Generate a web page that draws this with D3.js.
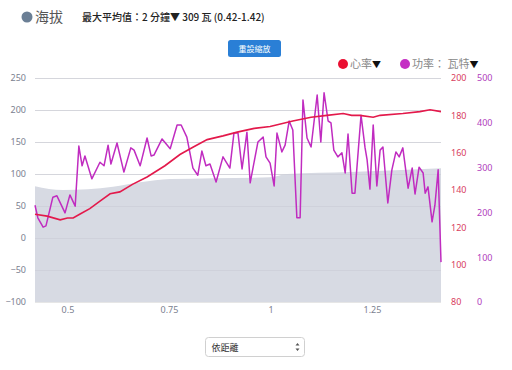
<!DOCTYPE html>
<html>
<head>
<meta charset="utf-8">
<script src="https://cdn.jsdelivr.net/npm/d3@7"></script>
<style>
  body { margin: 0; background: #fff; }
  svg { display: block; font-family: "Noto Sans", "Noto Sans CJK TC", sans-serif; }
</style>
</head>
<body>
<div id="chart"></div>
<script>
(function() {
  // data (distance in km)
  var altDist = [0.420, 0.489, 0.612, 0.679, 0.753, 0.999, 1.041, 1.196, 1.420],
      altVal  = [81, 75, 80, 87, 92, 95, 100, 103, 109];

  var hrDist = [0.420, 0.450, 0.482, 0.500, 0.514, 0.530, 0.555, 0.580, 0.605, 0.629, 0.660, 0.696,
                0.740, 0.777, 0.810, 0.844, 0.883, 0.918, 0.960, 0.999,
                1.055, 1.100, 1.139, 1.179, 1.200, 1.220, 1.253, 1.270, 1.326, 1.368, 1.393, 1.420],
      hrVal  = [127, 126, 124, 125, 125, 127, 130, 134, 138, 139, 143, 147,
                153, 159, 163, 167, 169, 171, 173, 174,
                177, 179, 180, 181, 180, 180, 179, 180, 181, 182, 183, 182];

  var pwDist = [0.420, 0.427, 0.440, 0.447, 0.464, 0.474, 0.494, 0.506, 0.519, 0.528, 0.536, 0.543,
                0.560, 0.580, 0.590, 0.600, 0.607, 0.622, 0.639, 0.656, 0.664, 0.679, 0.696, 0.706,
                0.713, 0.733, 0.753, 0.770, 0.780, 0.794, 0.809, 0.821, 0.831, 0.841, 0.851, 0.866,
                0.883, 0.900, 0.910, 0.920, 0.930, 0.942, 0.950, 0.969, 0.982, 0.989, 0.999, 1.009,
                1.016, 1.028, 1.036, 1.046, 1.055, 1.065, 1.073, 1.080, 1.090, 1.100, 1.115, 1.124,
                1.132, 1.142, 1.149, 1.156, 1.166, 1.176, 1.184, 1.191, 1.201, 1.208, 1.223, 1.233,
                1.238, 1.245, 1.253, 1.262, 1.270, 1.277, 1.289, 1.299, 1.309, 1.317, 1.326, 1.339,
                1.349, 1.356, 1.366, 1.376, 1.381, 1.388, 1.398, 1.405, 1.413, 1.420],
      pwVal  = [216, 188, 167, 170, 234, 237, 199, 239, 214, 348, 304, 326,
                275, 312, 304, 350, 308, 355, 290, 344, 339, 304, 366, 326,
                328, 364, 342, 395, 395, 368, 299, 283, 337, 304, 308, 268,
                324, 299, 377, 377, 297, 379, 266, 357, 368, 324, 310, 259,
                377, 335, 350, 404, 384, 188, 188, 451, 366, 346, 462, 357,
                467, 404, 400, 339, 324, 333, 288, 375, 243, 243, 417, 344,
                317, 252, 395, 259, 339, 346, 221, 295, 335, 324, 344, 254,
                299, 241, 301, 288, 243, 257, 179, 216, 295, 89];

  var xTicks = [0.5, 0.75, 1, 1.25],
      leftTicks = [-100, -50, 0, 50, 100, 150, 200, 250],
      hrTicks = [80, 100, 120, 140, 160, 180, 200],
      pwTicks = [0, 100, 200, 300, 400, 500];

  // layout
  var W = 512, H = 370,
      x0 = 35, x1 = 441, yTop = 78, yBot = 302;

  var svg = d3.select('#chart').append('svg')
    .attr('width', W).attr('height', H);

  var x = d3.scaleLinear().domain([0.42, 1.42]).range([x0, x1]),
      yL = d3.scaleLinear().domain([-100, 250]).range([yBot, yTop]),
      yHr = d3.scaleLinear().domain([80, 200]).range([yBot, yTop]),
      yPw = d3.scaleLinear().domain([0, 500]).range([yBot, yTop]);

  // grid
  svg.append('g').selectAll('line').data(leftTicks).join('line')
    .attr('x1', x0).attr('x2', x1)
    .attr('y1', function(d) { return yL(d) + 0.5; })
    .attr('y2', function(d) { return yL(d) + 0.5; })
    .attr('stroke', '#e6e6e6');

  // altitude area
  var alt = altDist.map(function(d, i) { return [d, altVal[i]]; });
  svg.append('path')
    .datum(alt)
    .attr('fill', '#d7dae3')
    .attr('d', d3.area().curve(d3.curveMonotoneX)
      .x(function(d) { return x(d[0]); })
      .y0(yBot)
      .y1(function(d) { return yL(d[1]); }));

  // grid on top of area (faint)
  svg.append('g').selectAll('line').data(leftTicks.slice(1)).join('line')
    .attr('x1', x0).attr('x2', x1)
    .attr('y1', function(d) { return yL(d) + 0.5; })
    .attr('y2', function(d) { return yL(d) + 0.5; })
    .attr('stroke', '#c9ccd6').attr('stroke-opacity', 0.6);

  // power
  var pw = pwDist.map(function(d, i) { return [d, pwVal[i]]; });
  svg.append('path')
    .datum(pw)
    .attr('fill', 'none')
    .attr('stroke', '#c02cc0')
    .attr('stroke-width', 1.5)
    .attr('stroke-linejoin', 'round')
    .attr('d', d3.line()
      .x(function(d) { return x(d[0]); })
      .y(function(d) { return yPw(d[1]); }));

  // heart rate
  var hr = hrDist.map(function(d, i) { return [d, hrVal[i]]; });
  svg.append('path')
    .datum(hr)
    .attr('fill', 'none')
    .attr('stroke', '#e3194b')
    .attr('stroke-width', 1.6)
    .attr('d', d3.line()
      .x(function(d) { return x(d[0]); })
      .y(function(d) { return yHr(d[1]); }));

  // axes
  var axL = svg.append('g')
    .attr('transform', 'translate(' + 26 + ',0)')
    .call(d3.axisLeft(yL).tickValues(leftTicks).tickSize(0).tickPadding(0));
  var axX = svg.append('g')
    .attr('transform', 'translate(0,' + 307 + ')')
    .call(d3.axisBottom(x).tickValues(xTicks).tickSize(0).tickPadding(0)
      .tickFormat(function(d) { return String(d); }));
  var axHr = svg.append('g')
    .attr('transform', 'translate(' + 451 + ',0)')
    .call(d3.axisRight(yHr).tickValues(hrTicks).tickSize(0).tickPadding(0));
  var axPw = svg.append('g')
    .attr('transform', 'translate(' + 477 + ',0)')
    .call(d3.axisRight(yPw).tickValues(pwTicks).tickSize(0).tickPadding(0));

  [axL, axX, axHr, axPw].forEach(function(a) {
    a.select('.domain').remove();
    a.selectAll('text').attr('font-size', 9)
      .attr('font-family', '"Noto Sans", sans-serif');
  });
  axL.selectAll('text').attr('fill', '#7b8190');
  axX.selectAll('text').attr('fill', '#7b8190');
  axHr.selectAll('text').attr('fill', '#d8405e');
  axPw.selectAll('text').attr('fill', '#b03cbd');

  // header
  svg.append('circle').attr('cx', 27).attr('cy', 17).attr('r', 5.5).attr('fill', '#6b7f95');
  svg.append('text').attr('x', 35).attr('y', 22)
    .attr('font-size', 14).attr('fill', '#555')
    .attr('font-family', '"Noto Sans CJK TC", sans-serif')
    .text('海拔');
  svg.append('text').attr('x', 82).attr('y', 21)
    .attr('font-size', 10).attr('fill', '#222').attr('font-weight', 500)
    .attr('font-family', '"Noto Sans CJK TC", sans-serif')
    .text('最大平均值：2 分鐘▼ 309 瓦 (0.42-1.42)');

  // reset zoom button
  svg.append('rect').attr('x', 228).attr('y', 40).attr('width', 53).attr('height', 17)
    .attr('rx', 2.5).attr('fill', '#2a7fd6');
  svg.append('text').attr('x', 254.5).attr('y', 51.5)
    .attr('text-anchor', 'middle').attr('font-size', 8).attr('fill', '#fff')
    .attr('font-family', '"Noto Sans CJK TC", sans-serif')
    .text('重設縮放');

  // legend
  var legend = [
    {label: '心率', color: '#ea0f32', cx: 343, tx: 350},
    {label: '功率： 瓦特', color: '#c52fc4', cx: 405, tx: 412}
  ];
  legend.forEach(function(l) {
    svg.append('circle').attr('cx', l.cx).attr('cy', 64).attr('r', 5).attr('fill', l.color);
    var t = svg.append('text').attr('x', l.tx).attr('y', 68)
      .attr('font-size', 11).attr('fill', '#888')
      .attr('font-family', '"Noto Sans CJK TC", sans-serif');
    t.append('tspan').text(l.label);
    t.append('tspan').attr('fill', '#111').attr('font-size', 9).text('▼');
  });

  // select box
  var sel = svg.append('g').attr('transform', 'translate(205.5,337.5)');
  sel.append('rect').attr('width', 99).attr('height', 19).attr('rx', 3)
    .attr('fill', '#fff').attr('stroke', '#d0d0d0');
  sel.append('text').attr('x', 6).attr('y', 13)
    .attr('font-size', 9).attr('fill', '#333')
    .attr('font-family', '"Noto Sans CJK TC", sans-serif')
    .text('依距離');
  sel.append('path').attr('d', 'M90,8 L92,5.5 L94,8 Z M90,11 L92,13.5 L94,11 Z').attr('fill', '#555');
})()
</script>
</body>
</html>
